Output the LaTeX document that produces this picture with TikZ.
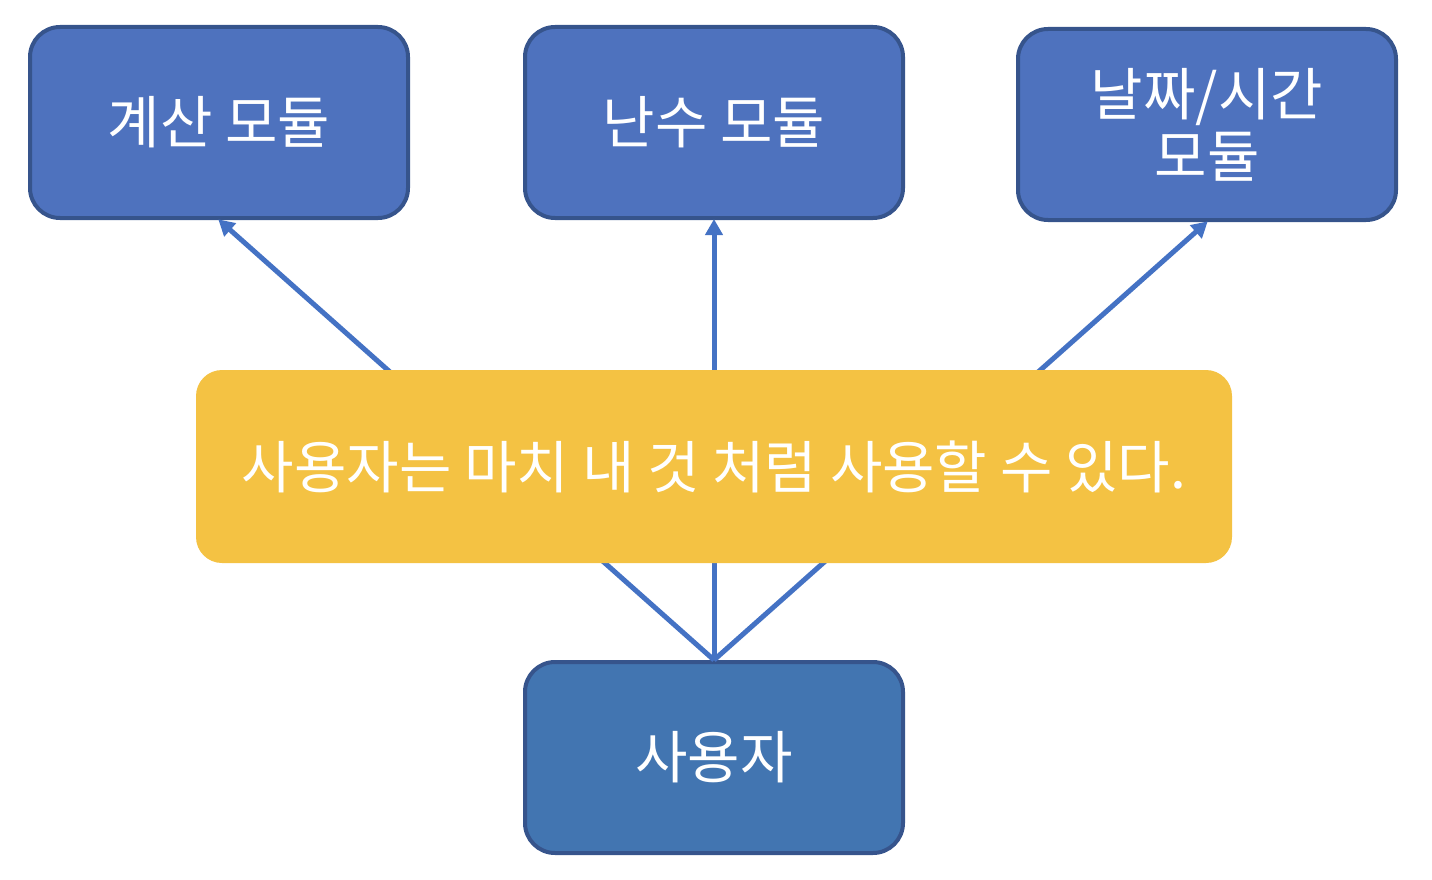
\documentclass[tikz,border=0pt]{standalone}
\usepackage{fontspec}
\setmainfont{Noto Sans CJK KR}
\usetikzlibrary{arrows.meta}
\definecolor{modfill}{HTML}{4E72BE}
\definecolor{modedge}{HTML}{36548C}
\definecolor{userfill}{HTML}{4275B1}
\definecolor{yel}{HTML}{F4C243}
\definecolor{conncol}{HTML}{4472C4}
\tikzset{
  modbox/.style={draw=modedge, line width=4pt, fill=modfill, rounded corners=30pt,
    minimum width=378pt, minimum height=191pt, text=white, align=center,
    font=\fontsize{57}{62}\selectfont, inner sep=0pt},
  userbox/.style={modbox, fill=userfill},
  notebox/.style={fill=yel, rounded corners=26pt, minimum width=1036pt, minimum height=193pt,
    text=white, font=\fontsize{57}{62}\selectfont, inner sep=0pt},
  conn/.style={draw=conncol, line width=5pt, -{Triangle[length=16pt,width=17pt]}, shorten >=-1pt}
}
\begin{document}
\begin{tikzpicture}[x=1pt,y=-1pt]
\useasboundingbox (0,0) rectangle (1432,880);
\node[modbox] (calc) at (219,122.5) {계산 모듈};
\node[modbox] (rand) at (714,122.5) {난수 모듈};
\node[modbox] (date) at (1207,124.5) {날짜/시간\\모듈};
\node[userbox] (user) at (714,757.5) {사용자};
\draw[conn] (user.north) -- (calc.south);
\draw[conn] (user.north) -- (rand.south);
\draw[conn] (user.north) -- (date.south);
\node[notebox] (note) at (714,466.5) {사용자는 마치 내 것 처럼 사용할 수 있다.};
\end{tikzpicture}
\end{document}
